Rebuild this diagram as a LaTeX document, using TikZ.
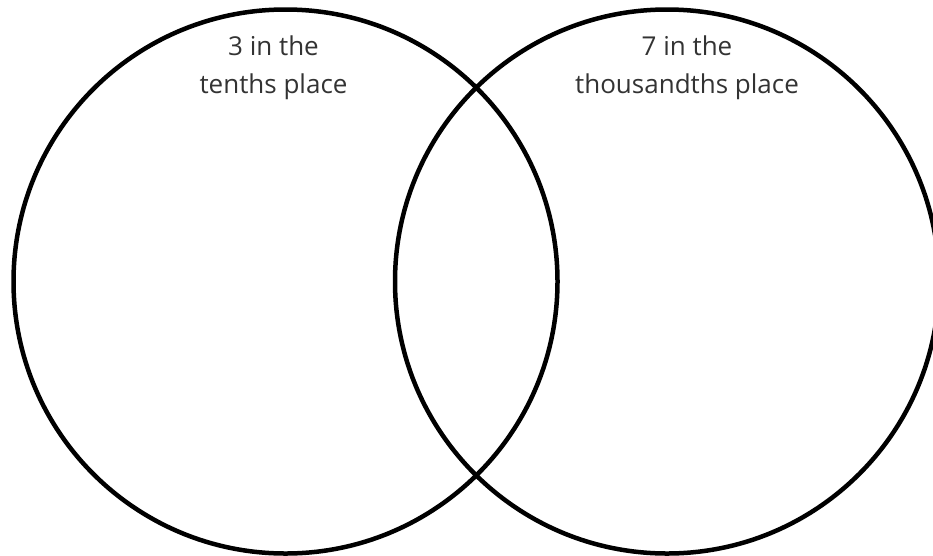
\documentclass[tikz,border=0pt]{standalone}
\usepackage{fontspec}
\setmainfont{Open Sans}
\definecolor{txt}{HTML}{333333}
\begin{document}
\begin{tikzpicture}[x=1pt,y=-1pt,
  ring/.style={draw=black,line width=4.5pt},
  lbl/.style={text=txt,align=center,font=\fontsize{26}{38}\selectfont,inner sep=0pt}]
\useasboundingbox (0,0) rectangle (933,555);
\node[ring,circle,minimum size=544pt,inner sep=0pt] (left) at (285.5,281.5) {};
\node[ring,circle,minimum size=544pt,inner sep=0pt] (right) at (667,281.5) {};
\node[lbl,anchor=base] (ltxt) at (273.5,93) {3 in the\\tenths place};
\node[lbl,anchor=base] (rtxt) at (687,93) {7 in the\\thousandths place};
\end{tikzpicture}
\end{document}
